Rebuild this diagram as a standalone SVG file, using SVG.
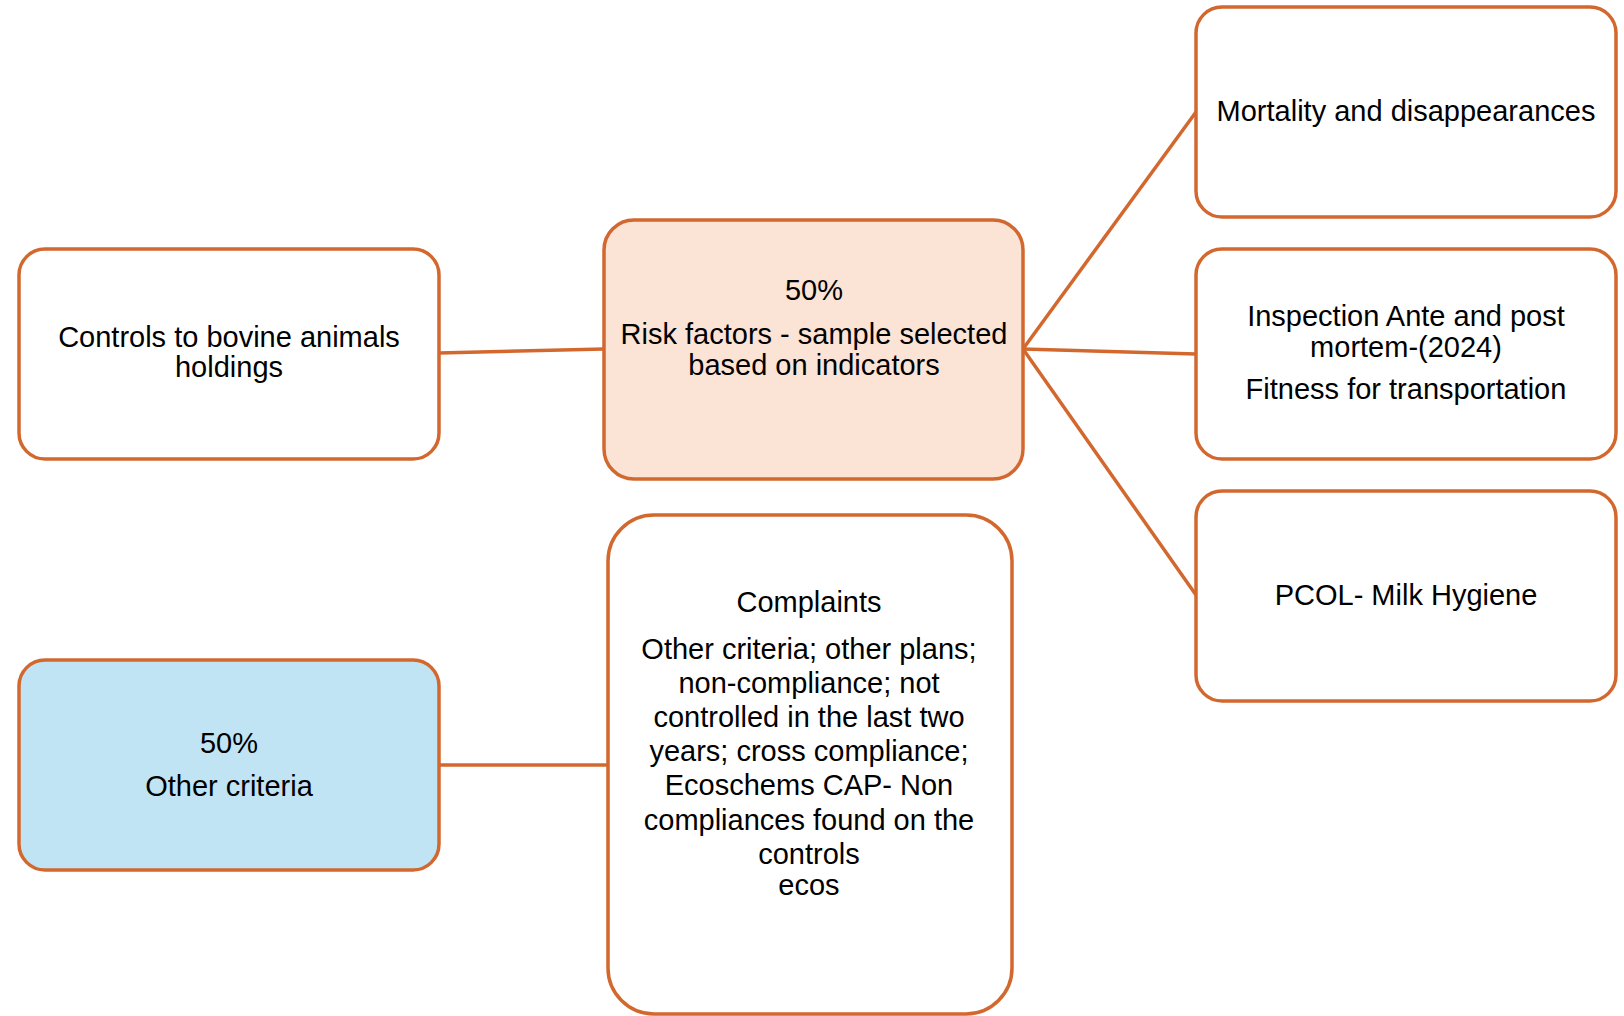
<svg xmlns="http://www.w3.org/2000/svg" width="1624" height="1016" viewBox="0 0 1624 1016">
<style>
.box{fill:#FFFFFF;stroke:#D3682F;stroke-width:3.5}
.risk{fill:#FBE3D6}
.other{fill:#C1E4F5}
.conn{stroke:#D3682F;stroke-width:3.5;fill:none}
text{font-family:"Liberation Sans",Arial,sans-serif;font-size:29px;fill:#000;text-anchor:middle}
</style>
<rect width="1624" height="1016" fill="#FFFFFF"/>
<g id="connectors">
<line class="conn" x1="439" y1="353" x2="604" y2="349"/>
<line class="conn" x1="1023" y1="349" x2="1196" y2="112"/>
<line class="conn" x1="1023" y1="349" x2="1196" y2="354"/>
<line class="conn" x1="1023" y1="349" x2="1196" y2="595"/>
<line class="conn" x1="439" y1="765" x2="608" y2="765"/>
</g>
<g id="controls">
<rect class="box" x="19" y="249" width="420" height="210" rx="26"/>
<text x="229" y="347">Controls to bovine animals</text>
<text x="229" y="377">holdings</text>
</g>
<g id="risk">
<rect class="box risk" x="604" y="220" width="419" height="259" rx="30"/>
<text x="814" y="300">50%</text>
<text x="814" y="344">Risk factors - sample selected</text>
<text x="814" y="375">based on indicators</text>
</g>
<g id="mortality">
<rect class="box" x="1196" y="7" width="420" height="210" rx="26"/>
<text x="1406" y="121">Mortality and disappearances</text>
</g>
<g id="inspection">
<rect class="box" x="1196" y="249" width="420" height="210" rx="26"/>
<text x="1406" y="326">Inspection Ante and post</text>
<text x="1406" y="357">mortem-(2024)</text>
<text x="1406" y="399">Fitness for transportation</text>
</g>
<g id="pcol">
<rect class="box" x="1196" y="491" width="420" height="210" rx="26"/>
<text x="1406" y="605">PCOL- Milk Hygiene</text>
</g>
<g id="other">
<rect class="box other" x="19" y="660" width="420" height="210" rx="26"/>
<text x="229" y="753">50%</text>
<text x="229" y="796">Other criteria</text>
</g>
<g id="complaints">
<rect class="box" x="608" y="515" width="404" height="499" rx="46"/>
<text x="809" y="612">Complaints</text>
<text x="809" y="659">Other criteria; other plans;</text>
<text x="809" y="693">non-compliance; not</text>
<text x="809" y="727">controlled in the last two</text>
<text x="809" y="761">years; cross compliance;</text>
<text x="809" y="795">Ecoschems CAP- Non</text>
<text x="809" y="830">compliances found on the</text>
<text x="809" y="864">controls</text>
<text x="809" y="895">ecos</text>
</g>
</svg>
